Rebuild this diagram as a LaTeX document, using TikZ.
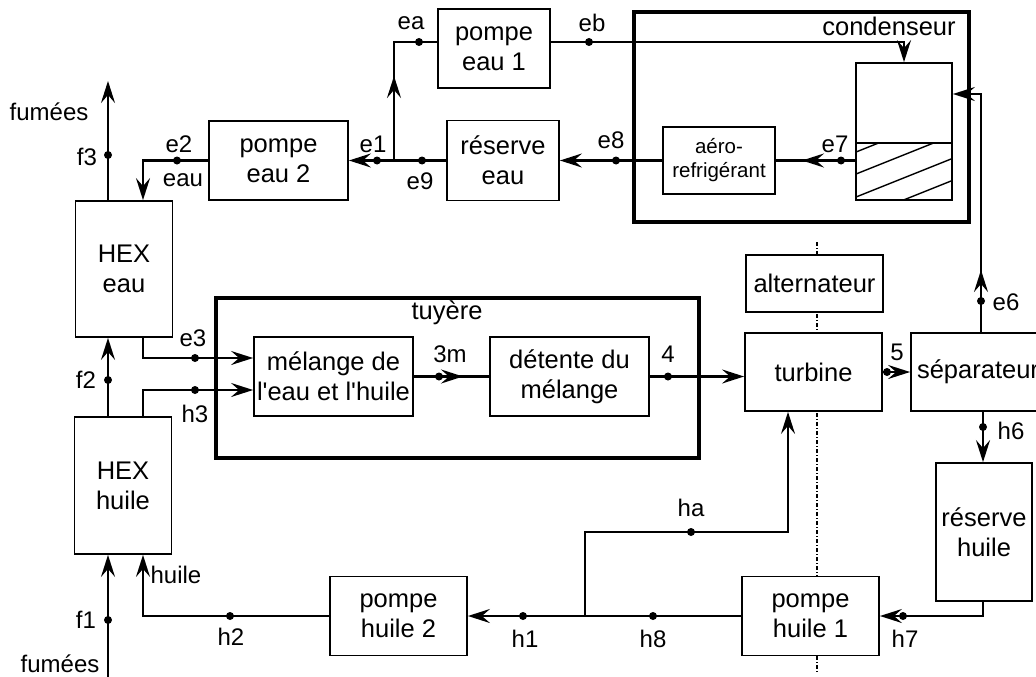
\documentclass[tikz,border=0pt]{standalone}
\usepackage{fontspec}
\setmainfont{Liberation Sans}
\usetikzlibrary{arrows.meta,calc}
\newcommand{\myboxfont}{\fontsize{25.5}{30}\selectfont}
\newcommand{\mylblfont}{\fontsize{24}{28}\selectfont}
\newcommand{\mysmallfont}{\fontsize{20.5}{24}\selectfont}
\font\myaposfont="Liberation Sans" at 25.5pt
\newcommand{\sq}{{\myaposfont '}}
\begin{document}
\begin{tikzpicture}[x=1pt,y=-1pt,
  box/.style={draw, line width=1.8pt, fill=white, inner sep=0pt, align=center, font=\myboxfont},
  frame/.style={draw, line width=4pt},
  conn/.style={line width=2.4pt},
  arr/.style={-{Stealth[length=22pt,width=14pt,inset=8pt]}},
  lbl/.style={font=\mylblfont, inner sep=0pt},
  axisline/.style={line width=1.2pt, dash pattern=on 4pt off 2pt on 1pt off 2pt}]
\useasboundingbox (0,0) rectangle (1036,677);
\fill[white] (0,0) rectangle (1036,677);

% axis of turbine / alternator
\coordinate (axtop) at (817,242);
\coordinate (axbot) at (817,672);
\draw[axisline] (axtop) -- (axbot);

% frames
\draw[frame] (634,12) rectangle (969,222);
\draw[frame] (216,298) rectangle (699,458);
\node[lbl, font=\myboxfont] (condlbl) at (889,26) {condenseur};
\node[lbl, font=\myboxfont] (tuylbl) at (447,313) {tuyère};

% boxes
\node[box, minimum width=112pt, minimum height=79pt] (pe1) at (494,48.5) {pompe\\eau 1};
\node[box, minimum width=112pt, minimum height=80pt] (re) at (503,160.5) {réserve\\eau};
\node[box, minimum width=139pt, minimum height=79pt] (pe2) at (278.5,160.5) {pompe\\eau 2};
\node[box, minimum width=112pt, minimum height=67pt, font=\mysmallfont] (aero) at (719,160.5) {aéro-\\refrigérant};
\node[box, minimum width=96pt, minimum height=137pt] (tank) at (904,131.5) {};
\node[box, minimum width=97pt, minimum height=136pt] (hexe) at (124,269) {HEX\\eau};
\node[box, minimum width=97pt, minimum height=137pt] (hexh) at (123,485.5) {HEX\\huile};
\node[box, minimum width=159pt, minimum height=79pt] (mel) at (333.5,376.5) {mélange de\\l\sq eau et l\sq huile};
\node[box, minimum width=159pt, minimum height=79pt] (det) at (569.5,376.5) {détente du\\mélange};
\node[box, minimum width=137pt, minimum height=57pt] (alt) at (814.5,283.5) {alternateur};
\node[box, minimum width=137pt, minimum height=78pt] (turb) at (813.5,372) {turbine};
\node[box, minimum width=134pt, minimum height=78pt] (sep) at (978,372) {séparateur};
\node[box, minimum width=96pt, minimum height=138pt] (rh) at (984,532) {réserve\\huile};
\node[box, minimum width=137pt, minimum height=79pt] (ph1) at (810.5,616) {pompe\\huile 1};
\node[box, minimum width=137pt, minimum height=79pt] (ph2) at (398.5,616) {pompe\\huile 2};

% tank divider and hatch
\coordinate (tdiv) at (904,143);
\draw[line width=1.8pt] (tank.west |- tdiv) -- (tank.east |- tdiv);
\begin{scope}
\clip (856,143) rectangle (952,200);
\foreach \c in {152,174,197,219}
  \draw[line width=1.4pt] (856,\c) -- (976,\c-48);
\end{scope}

% coordinates
\coordinate (j1) at (394,160.5);
\coordinate (ec) at (394,42);
\coordinate (e1tip) at (394,76);
\coordinate (e1tail) at (394,100);
\coordinate (ebc) at (904,42);
\coordinate (e7tip) at (802,160.5);
\coordinate (e7tail) at (828,160.5);
\coordinate (e2c) at (143,160.5);
\coordinate (f3top) at (108,81);
\coordinate (fx) at (108,380);
\coordinate (f1bot) at (108,677);
\coordinate (e3c) at (143,358);
\coordinate (h3c) at (143,390);
\coordinate (h2c) at (143,616);
\coordinate (m3tip) at (463,376.5);
\coordinate (m3tail) at (441,376.5);
\coordinate (e6c) at (981,94);
\coordinate (e6tip) at (981,270);
\coordinate (e6tail) at (981,294);
\coordinate (h6x) at (983,427);
\coordinate (h7c) at (983,616);
\coordinate (jh) at (585,616);
\coordinate (hac) at (585,532);
\coordinate (hbc) at (788,532);

% water loop
\draw[conn] (j1) -- (ec) -- (ec -| pe1.west);
\draw[conn, arr] (e1tail) -- (e1tip);
\draw[conn, arr] (ec -| pe1.east) -- (ebc) -- (tank.north);
\draw[conn] (tank.west |- aero.east) -- (aero.east);
\draw[conn, arr] (e7tail) -- (e7tip);
\draw[conn, arr] (aero.west) -- (re.east);
\draw[conn, arr] (re.west) -- (pe2.east);
\draw[conn, arr] (pe2.west) -- (e2c) -- (e2c |- hexe.north);
\draw[conn, arr] (hexe.north -| f3top) -- (f3top);
\draw[conn, arr] (hexe.south -| e3c) -- (e3c) -- (e3c -| mel.west);
\draw[conn, arr] (hexh.north -| h3c) -- (h3c) -- (h3c -| mel.west);
\draw[conn, arr] (hexh.north -| fx) -- (hexe.south -| fx);
\draw[conn, arr] (f1bot) -- (hexh.south -| f1bot);
\draw[conn, arr] (ph2.west) -- (h2c) -- (h2c |- hexh.south);

% nozzle / turbine
\draw[conn] (mel.east) -- (det.west);
\draw[conn, arr] (m3tail) -- (m3tip);
\draw[conn, arr] (det.east) -- (det.east -| turb.west);
\draw[conn, arr] (turb.east) -- (sep.west);
\draw[conn, arr] (sep.north -| e6c) -- (e6c) -- (e6c -| tank.east);
\draw[conn, arr] (e6tail) -- (e6tip);
\draw[conn, arr] (sep.south -| h6x) -- (h6x |- rh.north);
\draw[conn, arr] (rh.south -| h7c) -- (h7c) -- (h7c -| ph1.east);
\draw[conn, arr] (ph1.west |- jh) -- (jh -| ph2.east);
\draw[conn, arr] (jh) -- (hac) -- (hbc) -- (hbc |- turb.south);

% dots
\foreach \p in {(377,160.5),(422,160.5),(419,42),(589,42),(616,160.5),(841,160.5),
  (177,160.5),(108,155),(195,358),(195,390),(108,380),(108,620),(230,616),
  (523,616),(653,616),(691,532),(903,616),(983,427),(981,301),(887,372),(668,376.5),(439,376.5)}
  \fill \p circle (4pt);

% labels
\node[lbl] (lfum1) at (49,112) {fumées};
\node[lbl] (lf3) at (87,157) {f3};
\node[lbl] (le2) at (179,144) {e2};
\node[lbl] (leau) at (183,180) {eau};
\node[lbl] (le1) at (373,144) {e1};
\node[lbl] (lea) at (411,23) {ea};
\node[lbl] (leb) at (592,23) {eb};
\node[lbl] (le8) at (611,140) {e8};
\node[lbl] (le9) at (420,181) {e9};
\node[lbl] (le7) at (835,144) {e7};
\node[lbl] (le3) at (193,338) {e3};
\node[lbl] (lf2) at (86,380) {f2};
\node[lbl] (lh3) at (195,414) {h3};
\node[lbl] (l3m) at (450,354) {3m};
\node[lbl] (l4) at (668,354) {4};
\node[lbl] (l5) at (897,352) {5};
\node[lbl] (le6) at (1006,302) {e6};
\node[lbl] (lh6) at (1011,431) {h6};
\node[lbl] (lh7) at (905,639) {h7};
\node[lbl] (lha) at (691,508) {ha};
\node[lbl] (lh1) at (525,639) {h1};
\node[lbl] (lh8) at (653,639) {h8};
\node[lbl] (lhuile) at (176,575) {huile};
\node[lbl] (lh2) at (231,637) {h2};
\node[lbl] (lf1) at (86,620) {f1};
\node[lbl] (lfum2) at (60,664) {fumées};
\end{tikzpicture}
\end{document}
